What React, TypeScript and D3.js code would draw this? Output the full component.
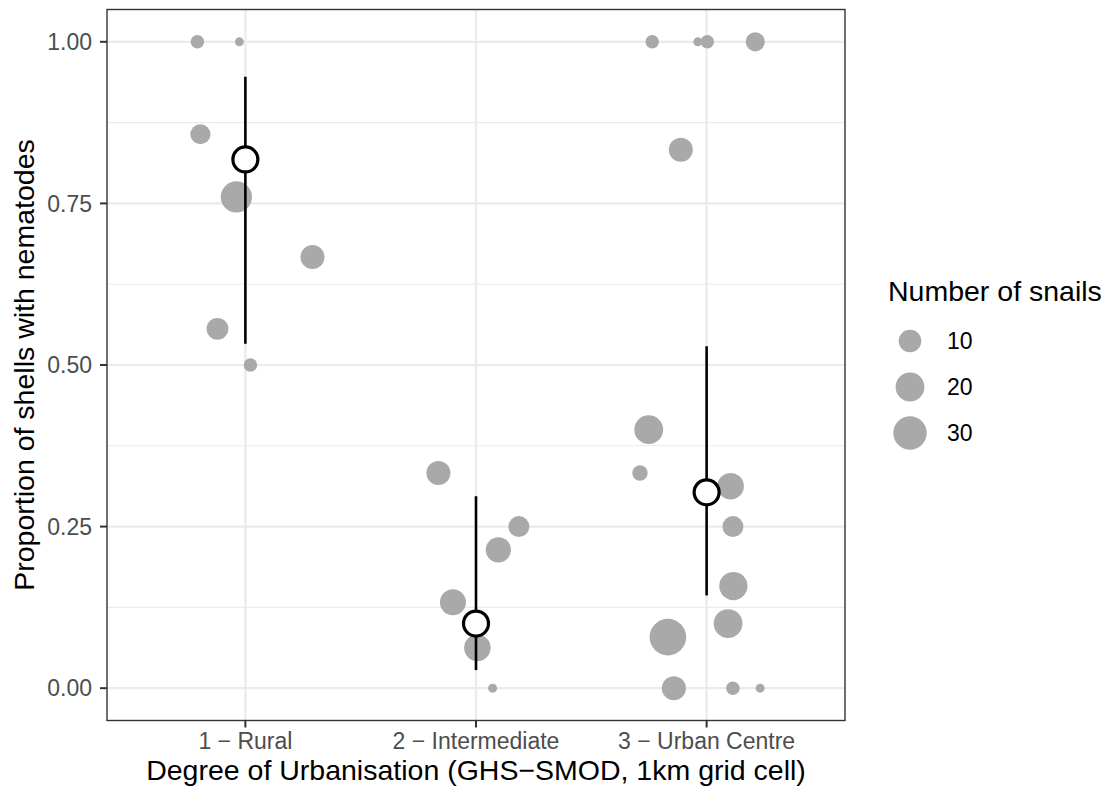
import React from 'react'
import * as d3 from 'd3'

// categories on the x axis
const categories = ['1 − Rural', '2 − Intermediate', '3 − Urban Centre']

const siteGroup = [0, 0, 0, 0, 0, 0, 0,
    1, 1, 1, 1, 1, 1,
    2, 2, 2, 2, 2, 2, 2, 2, 2, 2, 2, 2, 2, 2, 2]
const siteJitter = [-0.208, -0.026, -0.195, -0.039, 0.291, -0.121, 0.022,
    -0.163, 0.186, 0.097, -0.1, 0.006, 0.072,
    -0.236, -0.038, 0.003, 0.211, -0.112, -0.251, -0.289, 0.104, 0.114, 0.116, 0.093, -0.168, -0.142, 0.114, 0.232]
const siteProportion = [1, 1, 0.857, 0.76, 0.667, 0.556, 0.5,
    0.333, 0.25, 0.214, 0.133, 0.0625, 0,
    1, 1, 1, 1, 0.833, 0.4, 0.333, 0.3125, 0.25, 0.158, 0.1, 0.079, 0, 0, 0]
const siteSnails = [2, 1, 7, 25, 12, 9, 2,
    12, 8, 14, 15, 16, 1,
    2, 1, 2, 6, 12, 20, 3, 16, 8, 19, 20, 38, 12, 2, 1]

// model estimates per category, with 95% intervals
const estMean = [0.818, 0.1, 0.303]
const estLower = [0.533, 0.028, 0.1435]
const estUpper = [0.946, 0.297, 0.529]

const yTicks = [0, 0.25, 0.5, 0.75, 1]
const yMinor = [0.125, 0.375, 0.625, 0.875]
const legendSizes = [10, 20, 30]

const W = 1106, H = 790
const panel = { left: 107, right: 845, top: 9.5, bottom: 720.5 }
const FONT = '"Liberation Sans", Arial, sans-serif'

const App = () => {
    const x = d3.scalePoint<string>()
        .domain(categories)
        .range([panel.left, panel.right])
        .padding(0.6)
    const step = x.step()

    const y = d3.scaleLinear()
        .domain([-0.05, 1.05])
        .range([panel.bottom, panel.top])

    // ggplot-like area scale: sqrt of the rescaled count
    const nExt = d3.extent(siteSnails) as [number, number]
    const toUnit = d3.scaleLinear().domain(nExt).range([0, 1])
    const rUnit = d3.scaleSqrt().domain([0, 1]).range([4.5, 18.3])
    const r = (n: number) => rUnit(toUnit(n))

    const sites = siteGroup.map((g, i) => ({
        cx: (x(categories[g]) as number) + siteJitter[i] * step,
        cy: y(siteProportion[i]),
        r: r(siteSnails[i]),
    }))

    const midY = (panel.top + panel.bottom) / 2

    return (
        <svg width={W} height={H} style={{ position: 'absolute', left: 0, top: 0, background: '#fff' }}
            fontFamily={FONT}>
            <rect x={panel.left} y={panel.top} width={panel.right - panel.left}
                height={panel.bottom - panel.top} fill="#fff" />

            {/* grid */}
            {yMinor.map(v => (
                <line key={'mn' + v} x1={panel.left} x2={panel.right} y1={y(v)} y2={y(v)}
                    stroke="#EBEBEB" strokeWidth={1.1} />
            ))}
            {yTicks.map(v => (
                <line key={'mj' + v} x1={panel.left} x2={panel.right} y1={y(v)} y2={y(v)}
                    stroke="#EBEBEB" strokeWidth={2.2} />
            ))}
            {categories.map(c => (
                <line key={'vg' + c} x1={x(c)} x2={x(c)} y1={panel.top} y2={panel.bottom}
                    stroke="#EBEBEB" strokeWidth={2.2} />
            ))}

            {/* raw points */}
            {sites.map((s, i) => (
                <circle key={'p' + i} cx={s.cx} cy={s.cy} r={s.r} fill="#A9A9A9" />
            ))}

            {/* estimates */}
            {categories.map((c, i) => (
                <g key={'e' + c}>
                    <line x1={x(c)} x2={x(c)} y1={y(estLower[i])} y2={y(estUpper[i])}
                        stroke="#000" strokeWidth={2.6} />
                    <circle cx={x(c)} cy={y(estMean[i])} r={12.5} fill="#fff" stroke="#000" strokeWidth={3.2} />
                </g>
            ))}

            <rect x={panel.left} y={panel.top} width={panel.right - panel.left}
                height={panel.bottom - panel.top} fill="none" stroke="#333" strokeWidth={1.4} />

            {/* y axis */}
            {yTicks.map(v => (
                <g key={'yt' + v}>
                    <line x1={panel.left - 7} x2={panel.left} y1={y(v)} y2={y(v)} stroke="#333" strokeWidth={2} />
                    <text x={panel.left - 15} y={y(v)} dy="0.36em" textAnchor="end"
                        fontSize={23} fill="#4D4D4D">{d3.format('.2f')(v)}</text>
                </g>
            ))}
            <text transform={`translate(34,${midY}) rotate(-90)`} textAnchor="middle"
                fontSize={28.5} fill="#000">Proportion of shells with nematodes</text>

            {/* x axis */}
            {categories.map(c => (
                <g key={'xt' + c}>
                    <line x1={x(c)} x2={x(c)} y1={panel.bottom} y2={panel.bottom + 7} stroke="#333" strokeWidth={2} />
                    <text x={x(c)} y={748.5} textAnchor="middle" fontSize={23} fill="#4D4D4D">{c}</text>
                </g>
            ))}
            <text x={(panel.left + panel.right) / 2} y={779.5} textAnchor="middle"
                fontSize={28.5} fill="#000">Degree of Urbanisation (GHS−SMOD, 1km grid cell)</text>

            {/* legend */}
            <text x={888} y={301} fontSize={28.5} fill="#000">Number of snails</text>
            {legendSizes.map((n, i) => (
                <g key={'lg' + n}>
                    <circle cx={910} cy={341 + i * 46} r={r(n)} fill="#A9A9A9" />
                    <text x={947} y={341 + i * 46} dy="0.36em" fontSize={23} fill="#000">{n}</text>
                </g>
            ))}
        </svg>
    )
}

export default App
